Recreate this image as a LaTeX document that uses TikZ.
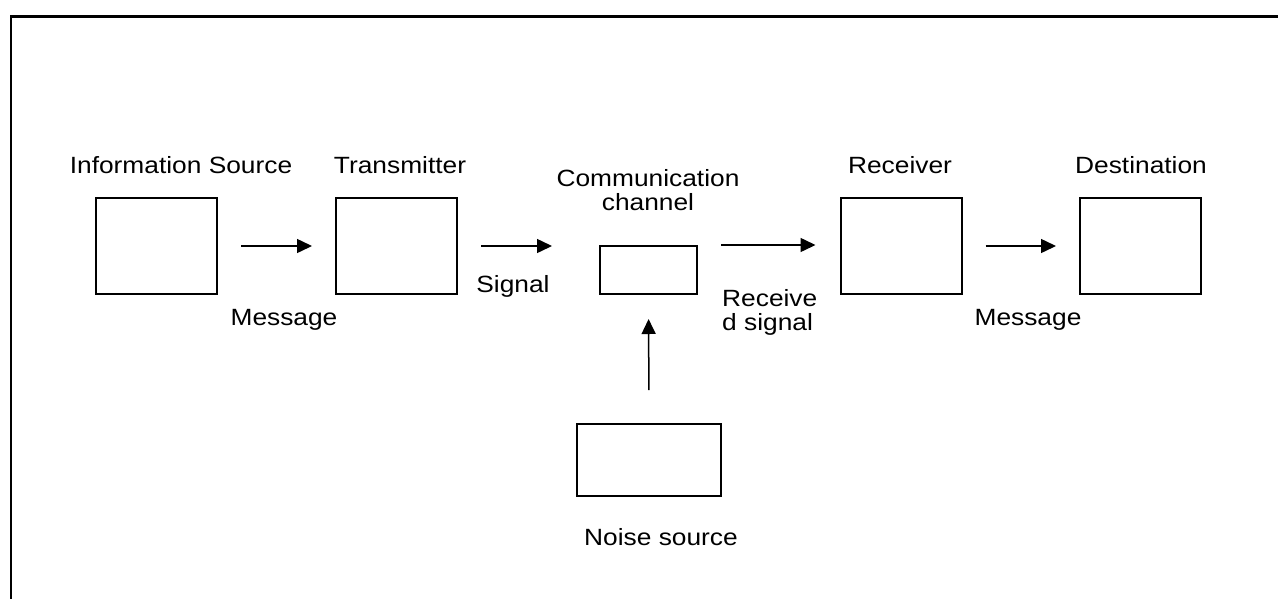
\documentclass[tikz,border=0pt]{standalone}
\usepackage{fontspec}
\setmainfont[FakeStretch=1.12]{Liberation Sans}
\usetikzlibrary{arrows.meta}
\begin{document}
\begin{tikzpicture}[x=1pt,y=-1pt,
  blk/.style={draw,line width=2pt,minimum width=121pt,minimum height=96pt,inner sep=0pt},
  smallblk/.style={draw,line width=2pt,inner sep=0pt},
  lbl/.style={inner sep=0pt,anchor=base,font=\fontsize{23.5}{24}\selectfont,align=center},
  conn/.style={line width=1.5pt,-{Triangle[length=15pt,width=14pt]}}]
\useasboundingbox (0,0) rectangle (1278,598);
\draw[line width=2.4pt] (11,600) -- (11,16.5) -- (1280,16.5);
% blocks
\node[blk] (src) at (156.5,246) {};
\node[blk] (tx) at (396.5,246) {};
\node[smallblk,minimum width=97pt,minimum height=48pt] (ch) at (648.5,270) {};
\node[blk] (rx) at (901,246) {};
\node[blk] (dst) at (1140.5,246) {};
\node[smallblk,minimum width=144pt,minimum height=72pt] (ns) at (649,460) {};
% labels
\node[lbl] (lsrc) at (181,173) {Information Source};
\node[lbl] (ltx) at (400,173) {Transmitter};
\node[lbl] (lch) at (648,210) {Communication\\channel};
\node[lbl] (lrx) at (900,173) {Receiver};
\node[lbl] (ldst) at (1141,173) {Destination};
\node[lbl] (lm1) at (284,325) {Message};
\node[lbl] (lsig) at (513,292) {Signal};
\node[lbl,align=left,anchor=base west] (lrs) at (722,330) {Receive\\d signal};
\node[lbl] (lm2) at (1028,325) {Message};
\node[lbl] (lns) at (661,545) {Noise source};
% connectors
\draw[conn,shorten <=23pt,shorten >=23pt] (src.east) -- (tx.west);
\draw[conn,shorten <=23pt,shorten >=47pt] (tx.east) -- (tx.east -| ch.west);
\draw[conn,shorten <=23pt,shorten >=24pt] (ch.north east) -- (ch.north east -| rx.west);
\draw[conn,shorten <=23pt,shorten >=23pt] (rx.east) -- (dst.west);
\draw[conn,shorten <=33pt,shorten >=24pt] (ns.north) -- (ch.south);
\end{tikzpicture}
\end{document}
